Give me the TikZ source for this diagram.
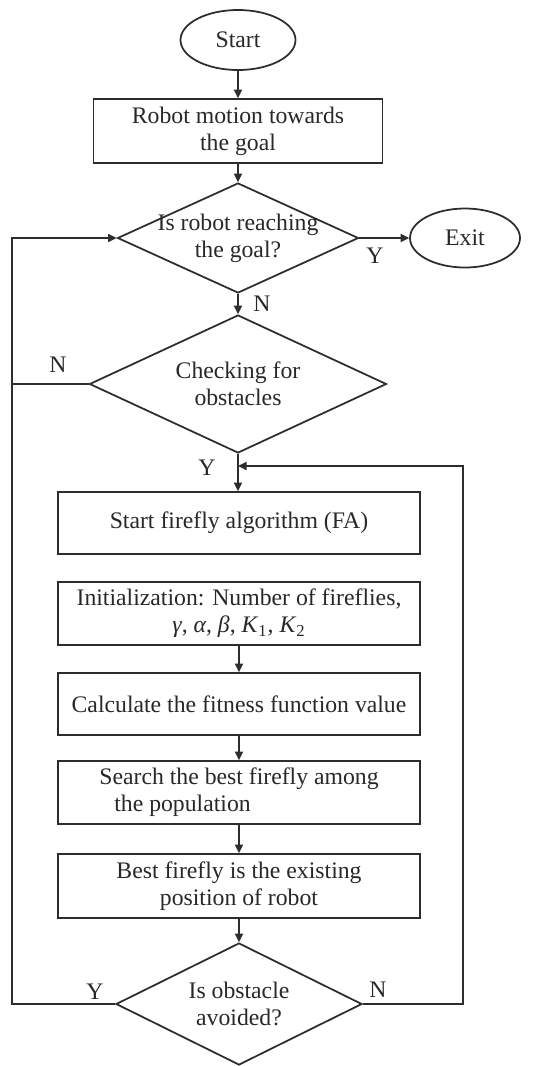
\documentclass[tikz,border=0pt]{standalone}
\usepackage{fontspec}
\setmainfont{Liberation Serif}
\usetikzlibrary{shapes.geometric, arrows.meta, positioning, calc}
\definecolor{linecolor}{RGB}{45,45,45}
\definecolor{textcolor}{RGB}{40,40,40}

\begin{document}
\begin{tikzpicture}[
    font=\fontsize{13.5}{15.5}\selectfont,
    terminal/.style={draw=linecolor, line width=1pt, ellipse, minimum width=2.3cm, minimum height=1.2cm, inner sep=0pt, text=textcolor},
    process/.style={draw=linecolor, line width=1pt, rectangle, minimum width=7.24cm, minimum height=1.26cm, align=center, text=textcolor},
    query/.style={draw=linecolor, line width=1pt, diamond, aspect=2.2, inner xsep=-0.35cm, inner ysep=0pt, align=center, text=textcolor},
    arrow/.style={-{Triangle[length=1.7mm, width=1.6mm]}, line width=1pt, linecolor},
    link/.style={line width=1pt, linecolor},
    answer/.style={text=textcolor}
]
    \useasboundingbox (0,0) rectangle (10.96,-21.32);

    % Main path
    \node[terminal] (start) at (4.76,-0.80) {Start};
    \node[process, minimum width=5.78cm, minimum height=1.28cm] (motion) at (4.76,-2.62) {Robot motion towards\\the goal};
    \node[query, minimum width=4.82cm, minimum height=2.2cm] (goal) at (4.76,-4.76) {Is robot reaching\\the goal?};
    \node[terminal, minimum width=2.2cm, minimum height=1.18cm] (exit) at (9.30,-4.76) {Exit};
    \node[query, minimum width=5.94cm, minimum height=2.76cm] (obst) at (4.76,-7.68) {Checking for\\obstacles};

    % Firefly algorithm
    \node[process, minimum height=1.24cm] (fa) at (4.78,-10.46) {Start firefly algorithm (FA)};
    \node[process] (init) at (4.78,-12.27) {Initialization: Number of fireflies,\\\textit{γ}, \textit{α}, \textit{β}, \textit{K}\textsubscript{1}, \textit{K}\textsubscript{2}};
    \node[process, minimum height=1.24cm] (calc) at (4.78,-14.08) {Calculate the fitness function value};
    \node[process, align=left] (search) at (4.78,-15.85) {Search the best firefly among\\\hspace*{0.3cm}the population};
    \node[process, minimum height=1.28cm] (best) at (4.78,-17.72) {Best firefly is the existing\\position of robot};
    \node[query, minimum width=4.92cm, minimum height=2.44cm] (avoid) at (4.78,-20.08) {Is obstacle\\avoided?};

    % Loop corners
    \coordinate (lloop) at (0.24,-4.76);
    \coordinate (rloop) at (9.26,-9.32);
    \coordinate (join) at (4.76,-9.32);

    % Arrows
    \draw[arrow] (start) -- (motion);
    \draw[arrow] (motion) -- (goal);
    \draw[arrow] (goal) -- (exit);
    \draw[arrow] (goal) -- (obst);
    \draw[arrow] (obst) -- (obst.south |- fa.north);

    \draw[arrow] (init) -- (calc);
    \draw[arrow] (calc) -- (search);
    \draw[arrow] (search) -- (best);
    \draw[arrow] (best) -- (avoid);

    \draw[arrow] (avoid.west) -| (lloop) -- (goal.west);
    \draw[link] (obst.west) -- (obst.west -| lloop);
    \draw[arrow] (avoid.east) -| (rloop) -- (join);

    % Labels
    \node[answer] (yexit) at (7.50,-5.12) {Y};
    \node[answer] (ngoal) at (5.24,-6.08) {N};
    \node[answer] (nobst) at (1.16,-7.30) {N};
    \node[answer] (yobst) at (4.14,-9.36) {Y};
    \node[answer] (yavoid) at (1.90,-19.84) {Y};
    \node[answer] (navoid) at (7.56,-19.80) {N};
\end{tikzpicture}
\end{document}
